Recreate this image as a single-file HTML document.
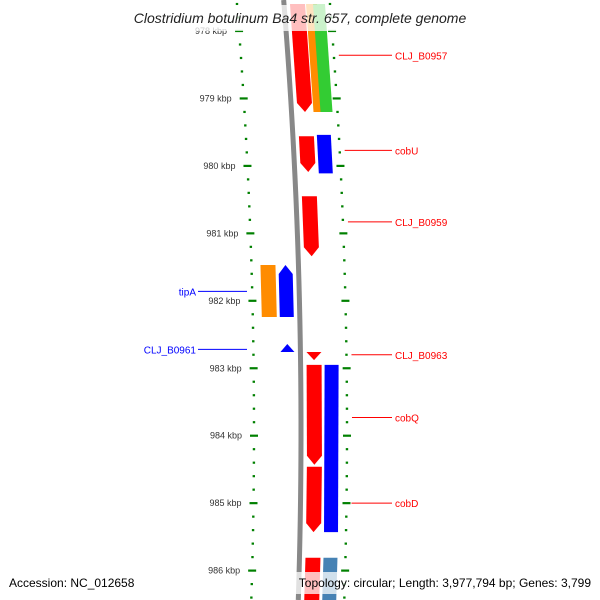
<!DOCTYPE html>
<html><head><meta charset="utf-8"><style>
html,body{margin:0;padding:0;background:#fff}
svg{display:block;font-family:"Liberation Sans","DejaVu Sans",sans-serif}
</style></head><body>
<svg id="c" width="600" height="600" viewBox="0 0 600 600"></svg>
<script>
const kbpTicks=[978,979,980,981,982,983,984,985,986];
const featStarts=[977.61,977.61,977.61,979.56,979.54,980.45,982.76,982.95,982.95,984.46,985.81,985.81,981.47,981.47,982.64];
const featEnds=[979.20,979.20,979.20,980.09,980.11,981.34,982.88,984.43,985.43,985.43,986.6,986.6,982.24,982.24,982.76];
const featColors=['#ff0000','#ff8c00','#33cc33','#ff0000','#0000ff','#ff0000','#ff0000','#ff0000','#0000ff','#ff0000','#ff0000','#4682b4','#ff8c00','#0000ff','#0000ff'];
const featLane=[0,2,3,0,1,0,0,0,1,0,0,1,4,5,5];
const featArrow=[1,0,0,1,0,1,1,1,0,1,0,0,0,-1,-1];
const labels=['CLJ_B0957','cobU','CLJ_B0959','CLJ_B0963','cobQ','cobD','tipA','CLJ_B0961'];
const labelKbp=[978.36,979.77,980.83,982.80,983.73,985.00,981.86,982.72];
const labelSide=[1,1,1,1,1,1,-1,-1];
const svg=document.getElementById('c');const NS='http://www.w3.org/2000/svg';
const y=k=>31+(k-978)*67.45;
const f=yy=>(yy-430)*(yy-430)/10666;
const laneX=[[307,322],[325,339],[323,334],[330,342],[263,278],[281,295]];
function mk(t,a,name){const e=document.createElementNS(NS,t);for(const k in a)e.setAttribute(k,a[k]);


svg.appendChild(e);return e;}
// backbone
let pts=[];for(let yy=0;yy<=600;yy+=20)pts.push((301-f(yy))+','+yy);
mk('polyline',{points:pts.join(' '),fill:'none',stroke:'#888',"stroke-width":5},'backbone');
// ticks
for(let k=977.6;k<=986.6;k+=0.2){const kk=Math.round(k*10)/10;const yy=y(kk);const major=Math.abs(kk-Math.round(kk))<0.01;
 const lx=254-f(yy),rx=347-f(yy);
 mk('line',{x1:lx-(major?4:1.2),x2:lx+(major?4:1.2),y1:yy,y2:yy,stroke:'#008000',"stroke-width":2.2},'tick-left');
 mk('line',{x1:rx-(major?4:1.2),x2:rx+(major?4:1.2),y1:yy,y2:yy,stroke:'#008000',"stroke-width":2.2},'tick-right');}
kbpTicks.forEach(k=>{const yy=y(k);const t=mk('text',{x:242-f(yy),y:yy+3,"text-anchor":"end","font-size":9,fill:'#333'},'kbp-label');t.textContent=k+' kbp';});
// features
featStarts.forEach((s,i)=>{const y1=y(s),y2=y(featEnds[i]);const [a,b]=laneX[featLane[i]];
 const o1=f(y1),o2=f(y2);const m=(a+b)/2;let p;
 const h=Math.min(9,(y2-y1));
 if(featArrow[i]==1){const ym=y2-h;const om=f(ym);
  p=[[a-o1,y1],[b-o1,y1],[b-om,ym],[m-o2,y2],[a-om,ym]];}
 else if(featArrow[i]==-1){const ym=y1+h;const om=f(ym);
  p=[[m-o1,y1],[b-om,ym],[b-o2,y2],[a-o2,y2],[a-om,ym]];}
 else p=[[a-o1,y1],[b-o1,y1],[b-o2,y2],[a-o2,y2]];
 mk('polygon',{points:p.map(q=>q.join(',')).join(' '),fill:featColors[i]},'gene-feature');});
// labels
labels.forEach((l,i)=>{const yy=y(labelKbp[i]);
 if(labelSide[i]>0){mk('line',{x1:352-f(yy),x2:392,y1:yy,y2:yy,stroke:'#ff0000',"stroke-width":1},'label-line');
  const t=mk('text',{x:395,y:yy+4,"font-size":10,fill:'#ff0000'},'gene-label');t.textContent=l;}
 else{mk('line',{x1:198,x2:247,y1:yy,y2:yy,stroke:'#0000ff',"stroke-width":1},'label-line');
  const t=mk('text',{x:196,y:yy+4,"font-size":10,fill:'#0000ff',"text-anchor":"end"},'gene-label');t.textContent=l;}});
// title and footer
mk('rect',{x:110,y:5,width:380,height:26,fill:'#fff',opacity:0.75},'title-bg');
const tt=mk('text',{x:300,y:23,"text-anchor":"middle","font-size":14,"font-style":"italic",fill:'#222'},'title');tt.textContent='Clostridium botulinum Ba4 str. 657, complete genome';
mk('rect',{x:4,y:572,width:142,height:22,fill:'#fff',opacity:0.75},'accession-bg');
const a=mk('text',{x:9,y:587,"font-size":12,fill:'#000'},'accession');a.textContent='Accession: NC_012658';
mk('rect',{x:258,y:572,width:338,height:22,fill:'#fff',opacity:0.75},'topology-bg');
const b=mk('text',{x:591,y:587,"font-size":12,fill:'#000',"text-anchor":"end"},'topology');b.textContent='Topology: circular; Length: 3,977,794 bp; Genes: 3,799';
</script>
</body></html>
